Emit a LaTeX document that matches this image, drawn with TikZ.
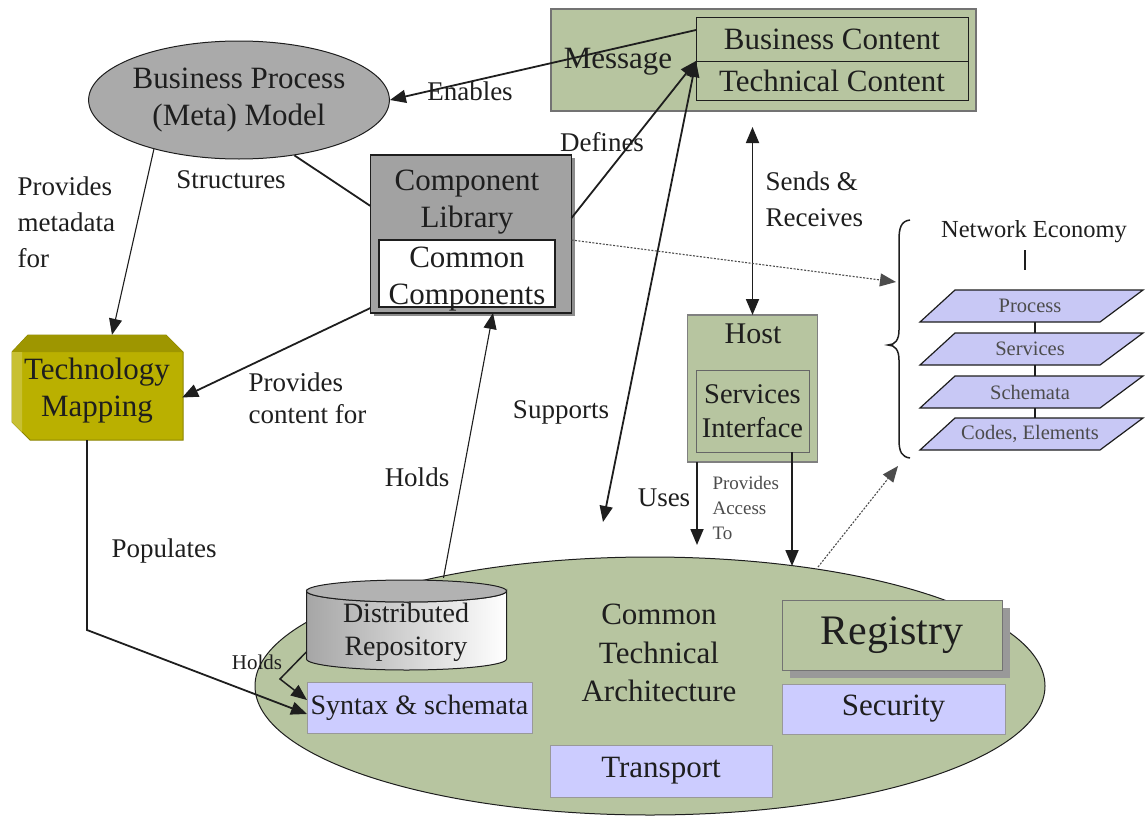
\documentclass[tikz,border=0pt]{standalone}
\usepackage{fontspec}
\setmainfont{Liberation Serif}
\usetikzlibrary{arrows.meta,shapes.geometric}
\definecolor{sage}{RGB}{183,197,160}
\definecolor{lav}{RGB}{204,204,255}
\definecolor{layer}{RGB}{200,200,245}
\definecolor{bpgray}{RGB}{170,170,170}
\definecolor{clgray}{RGB}{162,162,162}
\definecolor{olivebox}{RGB}{186,176,0}
\definecolor{ink}{RGB}{30,30,30}
\begin{document}
\begin{tikzpicture}[x=1pt,y=-1pt,
  every node/.style={text=ink},
  nt/.style={font=\fontsize{31}{37}\selectfont, align=center},
  lt/.style={font=\fontsize{27}{36}\selectfont, align=left},
  st/.style={font=\fontsize{19}{25}\selectfont, align=left, text=black!70},
  lay/.style={font=\fontsize{20.5}{24}\selectfont, text=black!70},
  box/.style={draw=ink, line width=1pt, inner sep=0pt, outer sep=0pt},
  tip/.tip={Triangle[length=16pt,width=13pt]},
  arr/.style={draw=ink, line width=1.8pt, -tip},
  dbl/.style={draw=ink, line width=1.8pt, tip-tip},
  thinarr/.style={draw=ink, line width=1.1pt, -tip},
  plain/.style={draw=ink, line width=1.8pt},
  dotarr/.style={draw=black!70, line width=1.1pt, dash pattern=on 2pt off 1.5pt, -tip},
]
\useasboundingbox (0,0) rectangle (1146,819);

% ---------- Message ----------
\node[box, draw=black!55, line width=1.5pt, fill=sage, minimum width=425pt, minimum height=102pt] (msg) at (763.5,60) {};
\node[box, fill=sage, minimum width=272pt, minimum height=44pt, nt] (bc) at (832,39) {Business Content};
\node[box, fill=sage, minimum width=272pt, minimum height=39pt, nt] (tc) at (832,80.5) {Technical Content};
\node[nt] (msgl) at (618,62) {Message};

% ---------- Business process ellipse ----------
\node[ellipse, draw=ink, line width=1pt, fill=bpgray, minimum width=286pt, minimum height=118pt, inner sep=0pt, nt] (bp) at (239,100) {Business Process\\(Meta) Model};

% ---------- Component library ----------
\fill[black!45] (374,158) rectangle (575,316);
\node[box, line width=1.5pt, fill=clgray, minimum width=201pt, minimum height=158pt] (cl) at (471,234) {};
\node[nt] (cll) at (467,202) {Component\\Library};
\node[box, line width=1.5pt, fill=white, minimum width=176pt, minimum height=67pt] (cc) at (467,273.5) {};
\node[nt] (ccl) at (467,279) {Common\\Components};

% ---------- Technology mapping ----------
\fill[olivebox, draw=olivebox!75!black, line width=1pt] (28,335) -- (166,335) -- (183,352) -- (183,440) -- (30,440) -- (12,422) -- (12,352) -- cycle;
\fill[olivebox!85!black] (28,335) -- (166,335) -- (183,352) -- (12,352) -- cycle;
\fill[olivebox!80!white] (12,352) -- (22,352) -- (22,432) -- (12,422) -- cycle;
\node[minimum width=170pt, minimum height=105pt, inner sep=0pt] (tm) at (97,387.5) {};
\node[nt] (tml) at (97,391) {Technology\\Mapping};

% ---------- Host ----------
\node[box, draw=black!50, line width=1.3pt, fill=sage, minimum width=130pt, minimum height=147pt] (host) at (752.5,388.5) {};
\node[nt, font=\fontsize{30}{36}\selectfont] (hostl) at (753,334) {Host};
\node[box, draw=black!60, fill=sage, minimum width=113pt, minimum height=82pt, nt, font=\fontsize{28.5}{34}\selectfont] (si) at (752.5,411) {Services\\Interface};

% ---------- Network economy ----------
\node[font=\fontsize{24.5}{28}\selectfont] (ne) at (1034,232) {Network Economy};
\draw[ink, line width=1.2pt] (1025,250) -- (1025,270);
\foreach \t/\lbl/\nm in {290/Process/l1, 333/Services/l2, 376/Schemata/l3, 418/{Codes, Elements}/l4}{
  \filldraw[fill=layer, draw=ink, line width=1.2pt] (955,\t) -- (1143,\t) -- (1100,\t+32) -- (920,\t+32) -- cycle;
  \node[lay] (\nm) at (1030,\t+16) {\lbl};
}
\draw[ink, line width=1.2pt] (1035,322) -- (1035,333) (1035,365) -- (1035,376) (1035,408) -- (1035,418);
\draw[ink, line width=1.5pt] (910,220) .. controls (901,221) and (899,228) .. (899,240) -- (899,330) .. controls (899,340) and (895,345) .. (888,345) .. controls (895,345) and (899,350) .. (899,360) -- (899,440) .. controls (899,452) and (902,457) .. (910,458);
\coordinate (braceIn) at (896,282);
\coordinate (braceBot) at (898,466);

% ---------- Common technical architecture ----------
\node[ellipse, draw=ink, line width=1pt, fill=sage, minimum width=790pt, minimum height=258pt, inner sep=0pt] (cta) at (650,686) {};
\node[nt, font=\fontsize{31}{38.5}\selectfont] (ctal) at (659,653) {Common\\Technical\\Architecture};

% repository cylinder
\fill[left color=black!35, right color=white, draw=ink, line width=1pt] (306.5,591) -- (306.5,659) arc[start angle=180, end angle=0, x radius=100, y radius=11] -- (506.5,591) arc[start angle=0, end angle=180, x radius=100, y radius=11] -- cycle;
\filldraw[fill=black!30, draw=ink, line width=1pt] (406.5,591) ellipse[x radius=100, y radius=11];
\node[minimum width=200pt, minimum height=90pt, inner sep=0pt] (repo) at (406.5,623) {};
\node[nt, font=\fontsize{28}{33}\selectfont] (repol) at (406,632) {Distributed\\Repository};

\node[box, draw=black!40, fill=lav, minimum width=225pt, minimum height=51pt, nt, font=\fontsize{28}{32}\selectfont] (syn) at (419.5,708) {Syntax \& schemata};
\fill[black!40] (790,608) rectangle (1010,678);
\node[box, draw=black!55, fill=sage, minimum width=220pt, minimum height=70pt, font=\fontsize{42}{48}\selectfont] (reg) at (892,635) {Registry};
\node[box, draw=black!40, fill=lav, minimum width=223pt, minimum height=50pt, nt] (sec) at (893.5,709) {Security};
\node[box, draw=black!40, fill=lav, minimum width=222pt, minimum height=52pt, nt] (trans) at (661,771) {Transport};

% ---------- connectors ----------
\draw[arr] ([yshift=9pt]bc.west) -- (bp.east);
\node[lt] (enl) at (470,91) {Enables};
\draw[arr] ([yshift=16pt]cl.east) -- (bc.south west);
\node[lt] (defl) at (602,142) {Defines};
\coordinate (supEnd) at (603,522);
\draw[dbl] (bc.south west) -- (supEnd);
\node[lt] (supl) at (561,412) {Supports};
\coordinate (srTop) at (752.5,127);
\draw[dbl] (srTop) -- (host.north);
\node[lt, anchor=west] (srl) at (762,199) {Sends \&\\Receives};
\draw[plain] (bp.-45) -- ([yshift=28pt]cl.west);
\node[lt] (strl) at (231,180) {Structures};
\draw[thinarr] (bp.-150) -- ([xshift=15pt]tm.north);
\node[lt, anchor=west] (pml) at (14,222) {Provides\\metadata\\for};
\draw[arr] ([yshift=5pt]cl.south west) -- ([yshift=-10pt]tm.east);
\node[lt, anchor=west, font=\fontsize{27}{32}\selectfont] (pcl) at (245,398) {Provides\\content for};
\draw[thinarr] ([xshift=37pt]repo.north) -- ([xshift=22pt]cl.south);
\node[lt] (hl) at (417,477) {Holds};
\coordinate (popCorner) at (87,630);
\draw[arr] ([xshift=-10pt]tm.south) -- (popCorner) -- ([yshift=-6pt]syn.west);
\node[lt] (popl) at (164,551) {Populates};
\coordinate (holdsBend) at (280,679);
\draw[arr, line width=1.5pt] ([yshift=-29pt]repo.west) -- (holdsBend) -- ([yshift=8pt]syn.west);
\node[font=\fontsize{21}{24}\selectfont] (hl2) at (257,662) {Holds};
\coordinate (usesEnd) at (697,545);
\draw[arr] (host.south west -| usesEnd) -- (usesEnd);
\node[lt] (usl) at (664,498) {Uses};
\node[st, anchor=west] (pal) at (709,508) {Provides\\Access\\To};
\coordinate (paEnd) at (792,566);
\draw[arr] (si.south -| paEnd) -- (paEnd);
\coordinate (ctaTop) at (818,567);
\draw[dotarr] (ctaTop) -- (braceBot);
\draw[dotarr] ([yshift=-6pt]cl.east) -- (braceIn);
\end{tikzpicture}
\end{document}
